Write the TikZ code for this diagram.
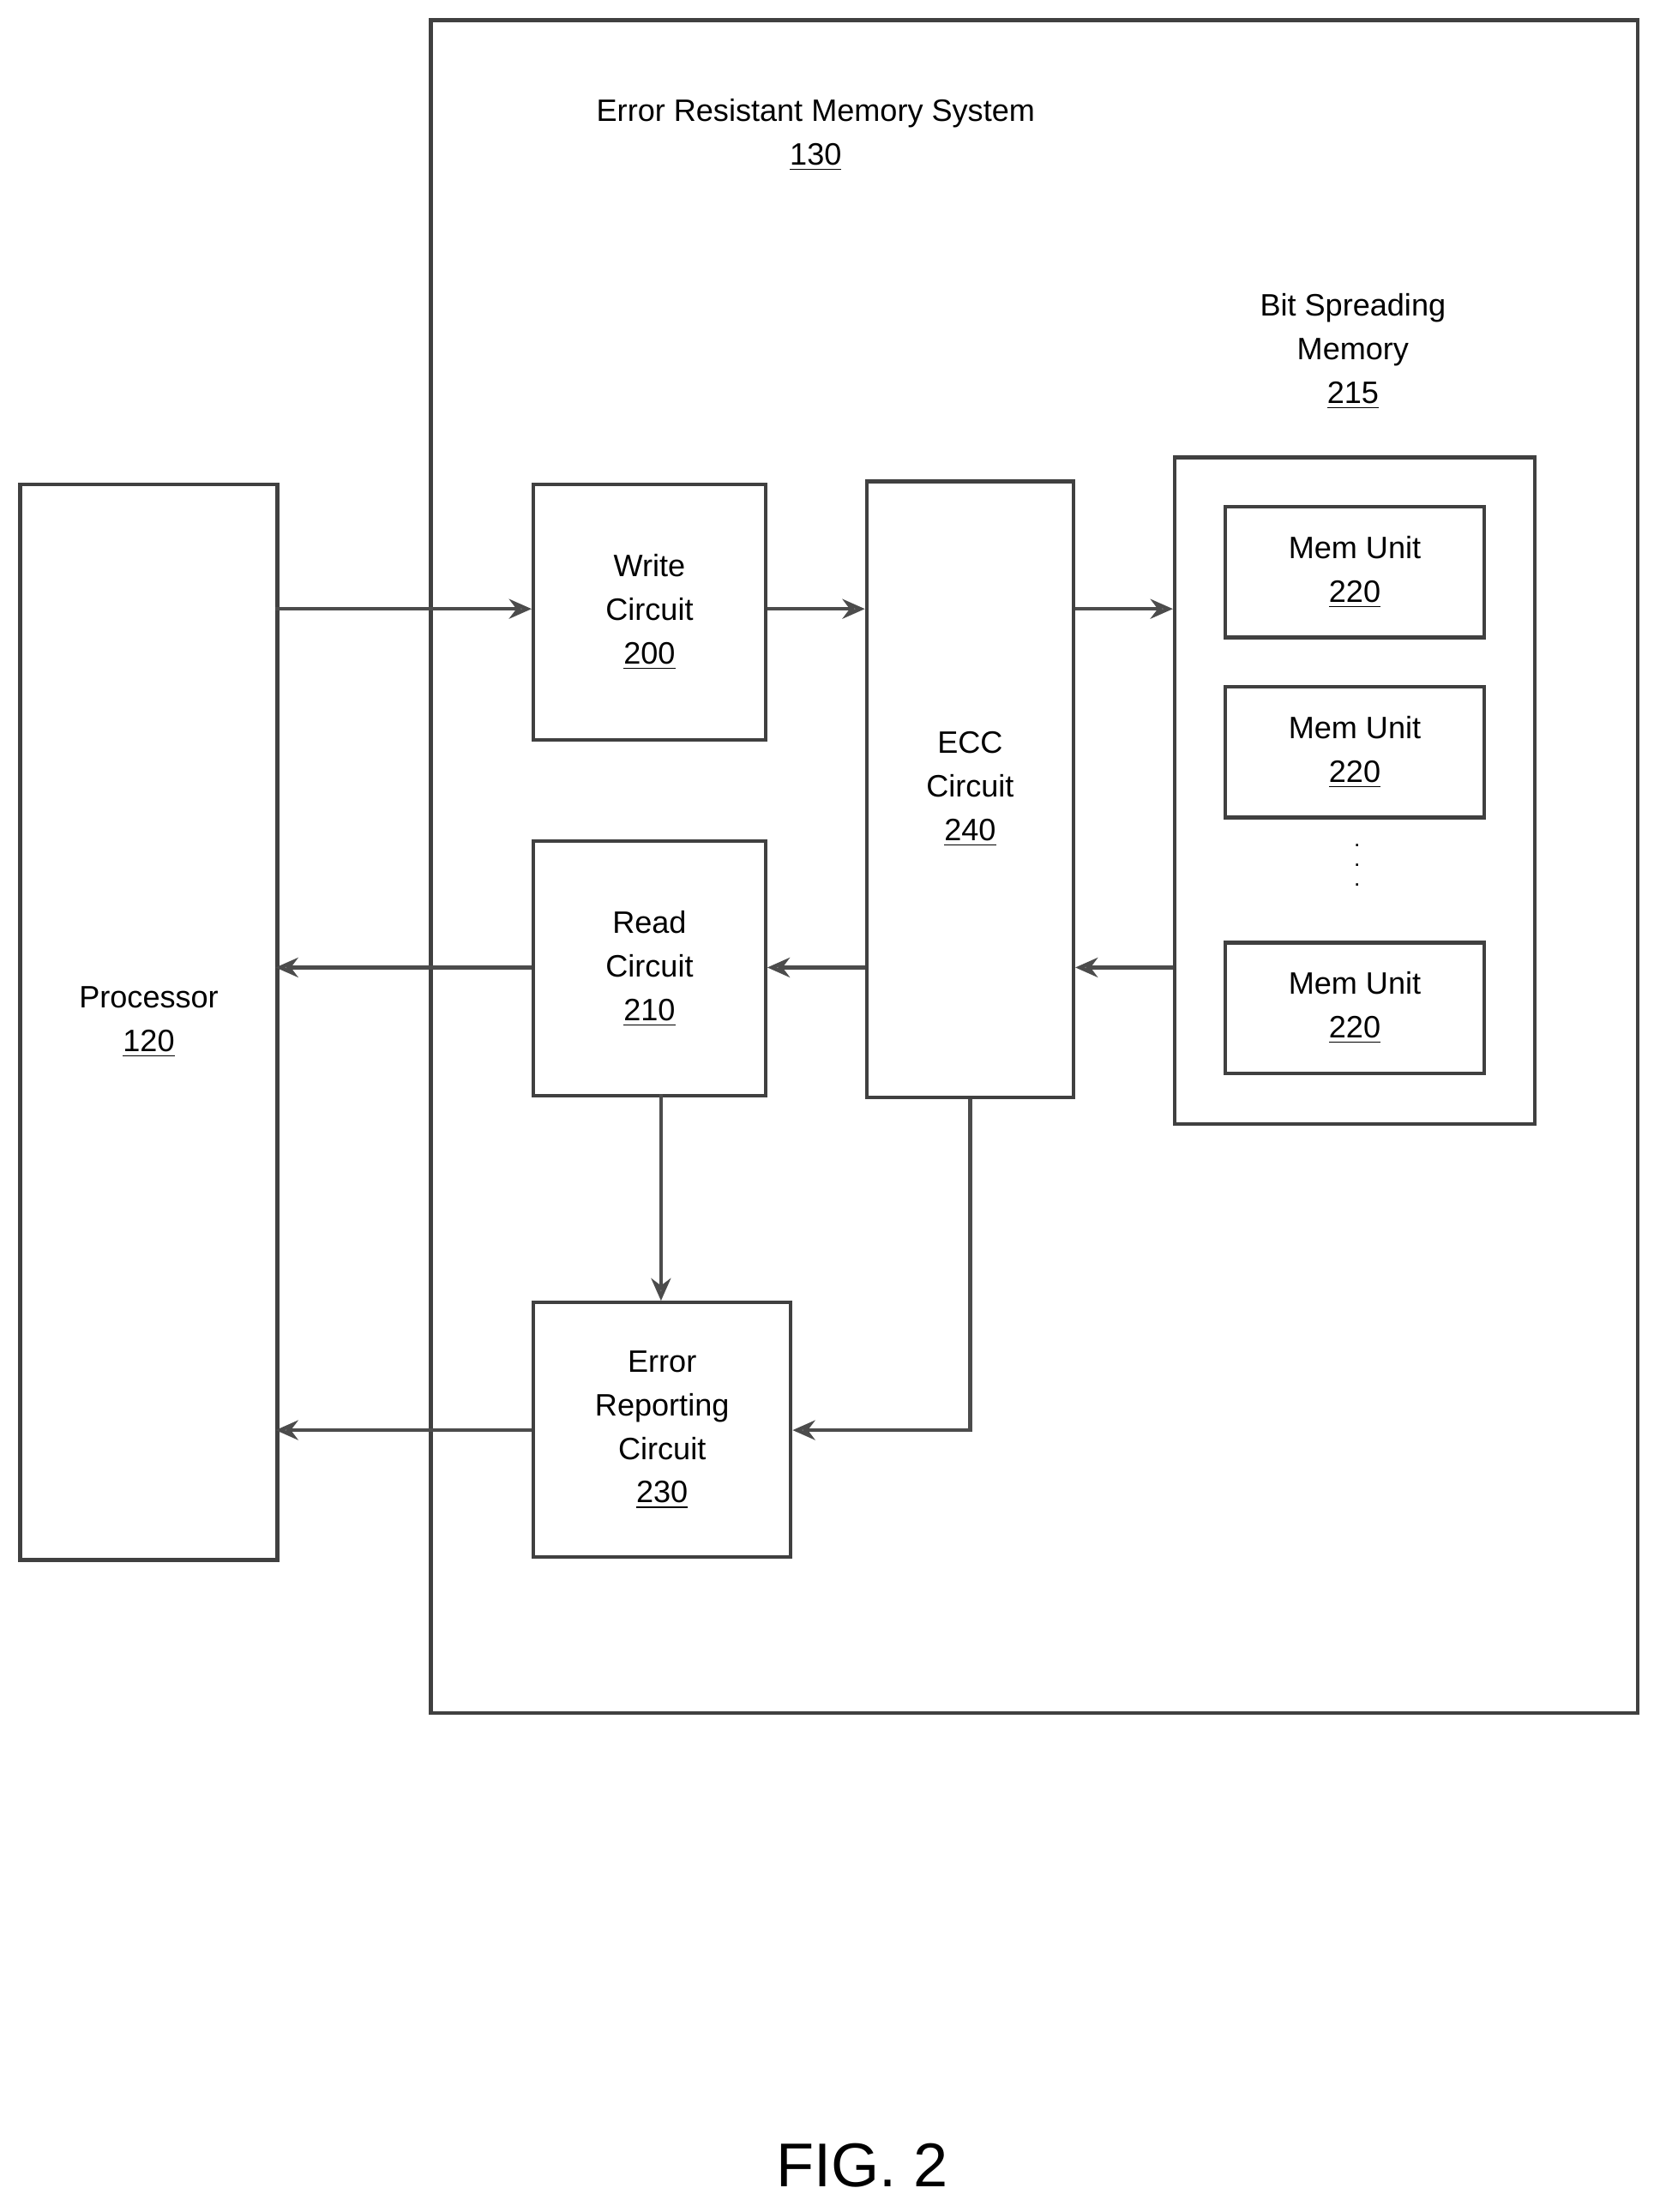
\documentclass[tikz,border=0pt]{standalone}
\usepackage{fontspec}
\setmainfont{Liberation Sans}
\usetikzlibrary{positioning,arrows.meta}
\tikzstyle{block} = [rectangle, draw=black!75, line width=1.3pt, align=center, inner sep=0pt, font=\fontsize{11}{15.5}\selectfont]
\tikzstyle{novertex} = [draw=none, fill=none, align=center, font=\fontsize{11}{15.5}\selectfont]
\tikzstyle{link} = [draw=black!70, line width=1.3pt, -{Stealth[length=8pt,width=7pt,fill=black!45]}]
\newcommand{\refnum}[1]{\underline{#1}}

\begin{document}
\begin{tikzpicture}[x=0.5pt,y=-0.5pt]
	\useasboundingbox (0,0) rectangle (1180,1573);

	% outer system box
	\node [block, minimum width=429pt, minimum height=602pt, anchor=north west] (SYS) at (305,13) {};
	\node [novertex] (T0) at (580,96) {Error Resistant Memory System\\\refnum{130}};

	% place nodes
	\node [block, minimum width=91.5pt, minimum height=382.5pt, anchor=north west] (P) at (13,343) {Processor\\\refnum{120}};
	\node [block, minimum width=82.5pt, minimum height=91pt, anchor=north west] (W) at (378,343) {Write\\Circuit\\\refnum{200}};
	\node [block, minimum width=73.5pt, minimum height=219pt, anchor=north west] (E) at (615,341) {ECC\\Circuit\\\refnum{240}};
	\node [block, minimum width=82.5pt, minimum height=90.5pt, anchor=north west] (R) at (378,597) {Read\\Circuit\\\refnum{210}};
	\node [block, minimum width=91.5pt, minimum height=90.5pt, anchor=north west] (ER) at (378,925) {Error\\Reporting\\Circuit\\\refnum{230}};

	% bit spreading memory
	\node [block, minimum width=128pt, minimum height=237pt, anchor=north west] (B) at (834,324) {};
	\node [novertex] (BL) at (962,250) {Bit Spreading\\Memory\\\refnum{215}};
	\node [block, minimum width=92pt, minimum height=46.5pt, anchor=north west] (M1) at (870,359) {Mem Unit\\\refnum{220}};
	\node [block, minimum width=92pt, minimum height=46.5pt, anchor=north west] (M2) at (870,487) {Mem Unit\\\refnum{220}};
	\node [block, minimum width=92pt, minimum height=46.5pt, anchor=north west] (M3) at (870,669) {Mem Unit\\\refnum{220}};
	\node [novertex, font=\fontsize{8}{7}\selectfont] (D) at (965,615) {.\\.\\.};

	\node [novertex, font=\fontsize{22}{24}\selectfont\rmfamily] (FIG) at (613,1540) {FIG. 2};

	% draw edges
	\coordinate (p1) at (196,433);
	\coordinate (p2) at (196,688);
	\coordinate (p3) at (196,1017);
	\coordinate (rd) at (470,778);
	\coordinate (er) at (470,925);
	\path [link] (p1) -- (W.west |- p1);
	\path [link] (W.east |- p1) -- (E.west |- p1);
	\path [link] (E.east |- p1) -- (B.west |- p1);
	\path [link] (B.west |- p2) -- (E.east |- p2);
	\path [link] (E.west |- p2) -- (R.east |- p2);
	\path [link] (R.west |- p2) -- (p2);
	\path [link] (rd) -- (er);
	\path [link] (E.south) |- (ER.east |- p3);
	\path [link] (ER.west |- p3) -- (p3);
\end{tikzpicture}
\end{document}
